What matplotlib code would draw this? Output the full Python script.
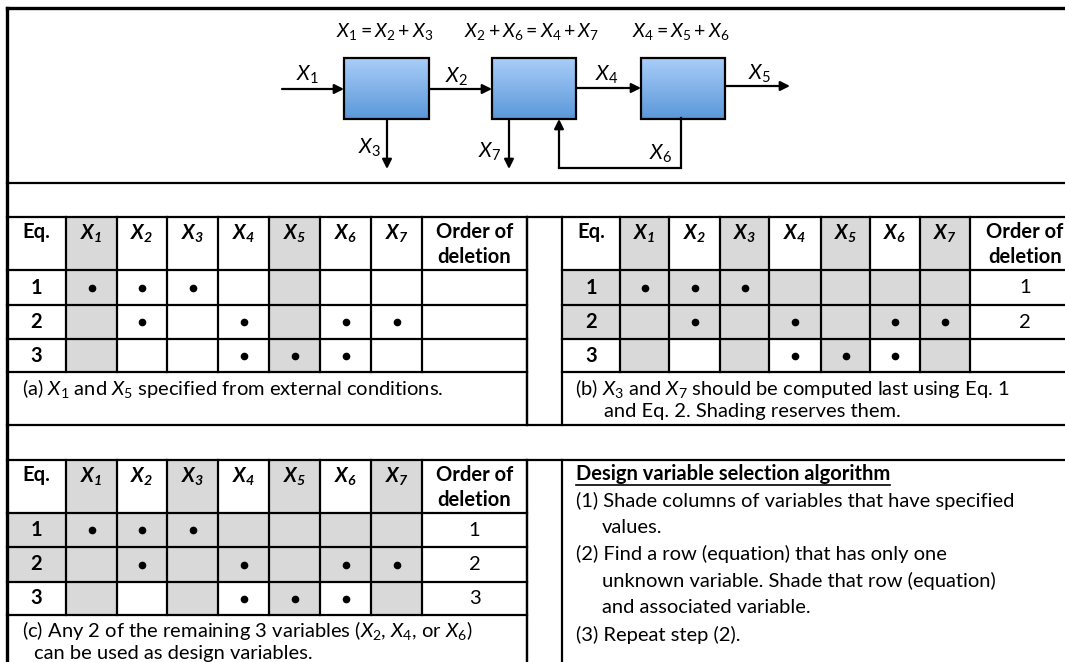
import numpy as np
import matplotlib.pyplot as plt
from matplotlib.patches import Rectangle
from matplotlib.colors import LinearSegmentedColormap

plt.rcParams['font.family'] = ['Lato', 'DejaVu Sans']
plt.rcParams['mathtext.fontset'] = 'custom'
plt.rcParams['mathtext.rm'] = 'Lato'
plt.rcParams['mathtext.it'] = 'Lato:italic'
plt.rcParams['mathtext.bf'] = 'Lato:bold'
plt.rcParams['mathtext.bfit'] = 'Lato:italic:bold'

# --- data ---
var_names = ['1', '2', '3', '4', '5', '6', '7']
eq_names = ['1', '2', '3']
# which variable appears in which equation
incidence = [[1, 1, 1, 0, 0, 0, 0],
             [0, 1, 0, 1, 0, 1, 1],
             [0, 0, 0, 1, 1, 1, 0]]

shade_cols_a = ['1', '5']
shade_rows_a = []
order_a = ['', '', '']
caption_a = [r'(a) $X_{\mathit{1}}$ and $X_{\mathit{5}}$ specified from external conditions.']

shade_cols_b = ['1', '3', '5', '7']
shade_rows_b = ['1', '2']
order_b = ['1', '2', '']
caption_b = [r'(b) $X_{\mathit{3}}$ and $X_{\mathit{7}}$ should be computed last using Eq. 1',
             'and Eq. 2. Shading reserves them.']

shade_cols_c = ['1', '3', '5', '7']
shade_rows_c = ['1', '2']
order_c = ['1', '2', '3']
caption_c = [r'(c) Any 2 of the remaining 3 variables ($X_{\mathit{2}}$, $X_{\mathit{4}}$, or $X_{\mathit{6}}$)',
             'can be used as design variables.']

algo_title = 'Design variable selection algorithm'
algo_lines = ['(1) Shade columns of variables that have specified',
              'values.',
              '(2) Find a row (equation) that has only one',
              'unknown variable. Shade that row (equation)',
              'and associated variable.',
              '(3) Repeat step (2).']
algo_indent = [False, True, False, True, True, False]

balance_eqs = [r'$X_{\mathit{1}} = X_{\mathit{2}} + X_{\mathit{3}}$',
               r'$X_{\mathit{2}} + X_{\mathit{6}} = X_{\mathit{4}} + X_{\mathit{7}}$',
               r'$X_{\mathit{4}} = X_{\mathit{5}} + X_{\mathit{6}}$']

W, H = 1065, 662
fig = plt.figure(figsize=(W / 100, H / 100), dpi=100)
ax = fig.add_axes([0, 0, 1, 1])
ax.axis('off')

LW = 1.6
GRAY = '#d9d9d9'
FS = 14.5


def hline(y, x0, x1, lw=LW):
    ax.plot([x0, x1], [y, y], color='k', lw=lw, solid_capstyle='projecting')


def vline(x, y0, y1, lw=LW):
    ax.plot([x, x], [y0, y1], color='k', lw=lw, solid_capstyle='projecting')


def xlab(n, bold=False):
    if bold:
        return r'$\mathbfit{X}_{\mathbfit{%s}}$' % n
    return r'$X_{\mathit{%s}}$' % n


# --- outer frame ---
hline(8, 7, 1080, lw=2.4)
vline(7, 8, 680, lw=2.4)
for y in [183, 217, 425, 460]:
    hline(y, 7, 1080)
for y0, y1 in [(217, 425), (460, 680)]:
    vline(527, y0, y1)
    vline(562, y0, y1)

# --- process diagram ---
cmap = LinearSegmentedColormap.from_list('box', ['#a9cdf9', '#5b98d9'])
grad = np.linspace(0, 1, 100).reshape(-1, 1)
boxes = [(344, 429), (492, 576), (641, 725)]
for (bx0, bx1), eq in zip(boxes, balance_eqs):
    ax.imshow(grad, extent=(bx0, bx1, 119, 58), cmap=cmap, aspect='auto',
              origin='upper', zorder=2)
    ax.add_patch(Rectangle((bx0, 58), bx1 - bx0, 61, fill=False, ec='k',
                           lw=1.6, zorder=3))
    ax.text((bx0 + bx1) / 2 - 2, 32, eq, ha='center', va='center', fontsize=14)

arrow = dict(arrowstyle='-|>', lw=1.6, color='k', mutation_scale=14,
             shrinkA=0, shrinkB=0)


def stream(x0, y0, x1, y1):
    ax.annotate('', xy=(x1, y1), xytext=(x0, y0), arrowprops=arrow, zorder=4)


stream(282, 89, 344, 89)
stream(429, 89, 492, 89)
stream(576, 88, 641, 88)
stream(725, 86, 790, 86)
stream(387, 119, 387, 169)
stream(509, 119, 509, 169)
ax.plot([681, 681, 559], [118, 168, 168], color='k', lw=1.6,
        solid_joinstyle='miter')
stream(559, 168, 559, 119)

for n, (x, y) in zip(['1', '2', '4', '5', '3', '7', '6'],
                     [(307, 75), (457, 77), (607, 75), (760, 74),
                      (370, 148), (490, 152), (661, 154)]):
    ax.text(x, y, xlab(n), ha='center', va='center', fontsize=15)


# --- incidence tables ---
def draw_table(xe, ye, shade_cols, shade_rows, order):
    # cells: column 0 = Eq., 1..7 = variables, 8 = order
    for ri in range(4):
        for ci in range(9):
            shaded = False
            if 1 <= ci <= 7 and var_names[ci - 1] in shade_cols:
                shaded = True
            if ri >= 1 and ci <= 7 and eq_names[ri - 1] in shade_rows:
                shaded = True
            if shaded:
                ax.add_patch(Rectangle((xe[ci], ye[ri]), xe[ci + 1] - xe[ci],
                                       ye[ri + 1] - ye[ri], fc=GRAY, ec='none',
                                       zorder=1))
    for y in ye[1:5]:
        hline(y, xe[0], xe[-1])
    for x in xe[1:-1]:
        vline(x, ye[0], ye[4])
    vline(xe[-1], ye[0], ye[-1])

    ty = ye[0] + 15
    ax.text((xe[0] + xe[1]) / 2, ty, 'Eq.', ha='center', va='center',
            fontsize=FS, fontweight='bold')
    for ci, n in enumerate(var_names):
        ax.text((xe[ci + 1] + xe[ci + 2]) / 2, ty + 1, xlab(n, bold=True),
                ha='center', va='center', fontsize=FS)
    ax.text((xe[8] + xe[9]) / 2, ty, 'Order of', ha='center', va='center',
            fontsize=FS, fontweight='bold')
    ax.text((xe[8] + xe[9]) / 2, ty + 25, 'deletion', ha='center',
            va='center', fontsize=FS, fontweight='bold')
    for ri, eq in enumerate(eq_names):
        yc = (ye[ri + 1] + ye[ri + 2]) / 2
        ax.text((xe[0] + xe[1]) / 2, yc, eq, ha='center', va='center',
                fontsize=FS, fontweight='bold')
        xs = [(xe[ci + 1] + xe[ci + 2]) / 2 for ci in range(7) if incidence[ri][ci]]
        ax.plot(xs, [yc] * len(xs), 'o', color='k', ms=4.5, zorder=3)
        ax.text((xe[8] + xe[9]) / 2, yc, order[ri], ha='center', va='center',
                fontsize=FS)


left_x = [7, 66, 117, 167, 218, 269, 320, 371, 422, 527]
right_x = [562, 620, 669, 720, 769, 821, 870, 920, 970, 1080]
draw_table(left_x, [217, 270, 305, 339, 372, 425], shade_cols_a, shade_rows_a, order_a)
draw_table(right_x, [217, 270, 305, 339, 372, 425], shade_cols_b, shade_rows_b, order_b)
draw_table(left_x, [460, 513, 547, 582, 615, 680], shade_cols_c, shade_rows_c, order_c)

# --- captions ---
def caption(lines, x, y, indent, step):
    for i, s in enumerate(lines):
        ax.text(x + (indent if i else 0), y + i * step, s, ha='left',
                va='center', fontsize=FS)


caption(caption_a, 22, 388, 0, 23)
caption(caption_b, 575, 388, 29, 23)
caption(caption_c, 22, 631, 12, 23)

# --- algorithm text ---
title = ax.text(576, 474, algo_title, ha='left', va='center', fontsize=FS,
                fontweight='bold')
for i, (s, ind) in enumerate(zip(algo_lines, algo_indent)):
    ax.text(602 if ind else 576, 501 + i * 26.7, s, ha='left', va='center',
            fontsize=FS)

ax.set_xlim(0, W)
ax.set_ylim(H, 0)

fig.canvas.draw()
bb = title.get_window_extent().transformed(ax.transData.inverted())
hline(485, bb.x0, bb.x1, lw=1.2)

fig.savefig('out.png', dpi=100)
